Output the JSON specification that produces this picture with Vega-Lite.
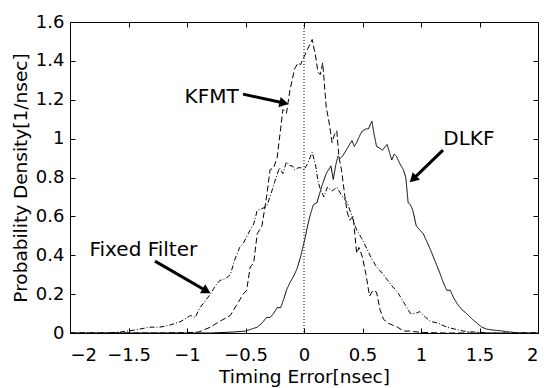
{
  "$schema": "https://vega.github.io/schema/vega-lite/v6.json",
  "width": 468,
  "height": 311,
  "autosize": {"type": "none"},
  "padding": {"left": 70, "top": 22, "right": 11, "bottom": 55},
  "background": "white",
  "config": {
    "view": {"stroke": "black", "strokeWidth": 1},
    "axis": {"grid": false, "domain": false, "labelFont": "DejaVu Sans", "titleFont": "DejaVu Sans", "labelColor": "black", "titleColor": "black", "tickColor": "black", "labelFontSize": 18, "titleFontSize": 18.5, "titleFontWeight": "normal", "tickSize": -5}
  },
  "datasets": {
    "curves": [
      {"series": "KFMT", "x": -2.0, "y": 0},
      {"series": "KFMT", "x": -1.2, "y": 0},
      {"series": "KFMT", "x": -1.0, "y": 0.002},
      {"series": "KFMT", "x": -0.9, "y": 0.005},
      {"series": "KFMT", "x": -0.8, "y": 0.03},
      {"series": "KFMT", "x": -0.72, "y": 0.06},
      {"series": "KFMT", "x": -0.63, "y": 0.09},
      {"series": "KFMT", "x": -0.58, "y": 0.14},
      {"series": "KFMT", "x": -0.52, "y": 0.2},
      {"series": "KFMT", "x": -0.49, "y": 0.22},
      {"series": "KFMT", "x": -0.46, "y": 0.34},
      {"series": "KFMT", "x": -0.43, "y": 0.36},
      {"series": "KFMT", "x": -0.4, "y": 0.51},
      {"series": "KFMT", "x": -0.36, "y": 0.55},
      {"series": "KFMT", "x": -0.32, "y": 0.7},
      {"series": "KFMT", "x": -0.29, "y": 0.84},
      {"series": "KFMT", "x": -0.26, "y": 0.85},
      {"series": "KFMT", "x": -0.23, "y": 0.9},
      {"series": "KFMT", "x": -0.2, "y": 1.05},
      {"series": "KFMT", "x": -0.18, "y": 1.15},
      {"series": "KFMT", "x": -0.15, "y": 1.13},
      {"series": "KFMT", "x": -0.12, "y": 1.25},
      {"series": "KFMT", "x": -0.08, "y": 1.36},
      {"series": "KFMT", "x": -0.05, "y": 1.39},
      {"series": "KFMT", "x": -0.03, "y": 1.38},
      {"series": "KFMT", "x": 0.0, "y": 1.42},
      {"series": "KFMT", "x": 0.03, "y": 1.46},
      {"series": "KFMT", "x": 0.07, "y": 1.51},
      {"series": "KFMT", "x": 0.1, "y": 1.42},
      {"series": "KFMT", "x": 0.12, "y": 1.34},
      {"series": "KFMT", "x": 0.14, "y": 1.33},
      {"series": "KFMT", "x": 0.16, "y": 1.39},
      {"series": "KFMT", "x": 0.19, "y": 1.16},
      {"series": "KFMT", "x": 0.21, "y": 1.1},
      {"series": "KFMT", "x": 0.24, "y": 0.98},
      {"series": "KFMT", "x": 0.26, "y": 1.02},
      {"series": "KFMT", "x": 0.28, "y": 1.04},
      {"series": "KFMT", "x": 0.3, "y": 0.9},
      {"series": "KFMT", "x": 0.32, "y": 0.84},
      {"series": "KFMT", "x": 0.35, "y": 0.7},
      {"series": "KFMT", "x": 0.37, "y": 0.62},
      {"series": "KFMT", "x": 0.39, "y": 0.58},
      {"series": "KFMT", "x": 0.42, "y": 0.6},
      {"series": "KFMT", "x": 0.45, "y": 0.41},
      {"series": "KFMT", "x": 0.47, "y": 0.44},
      {"series": "KFMT", "x": 0.5, "y": 0.39},
      {"series": "KFMT", "x": 0.53, "y": 0.3},
      {"series": "KFMT", "x": 0.56, "y": 0.19},
      {"series": "KFMT", "x": 0.59, "y": 0.22},
      {"series": "KFMT", "x": 0.62, "y": 0.21},
      {"series": "KFMT", "x": 0.65, "y": 0.12},
      {"series": "KFMT", "x": 0.68, "y": 0.07},
      {"series": "KFMT", "x": 0.72, "y": 0.05},
      {"series": "KFMT", "x": 0.76, "y": 0.04},
      {"series": "KFMT", "x": 0.8, "y": 0.03},
      {"series": "KFMT", "x": 0.85, "y": 0.01},
      {"series": "KFMT", "x": 0.9, "y": 0.01},
      {"series": "KFMT", "x": 1.0, "y": 0.003},
      {"series": "KFMT", "x": 1.2, "y": 0},
      {"series": "KFMT", "x": 2.0, "y": 0},
      {"series": "Fixed Filter", "x": -2.0, "y": 0},
      {"series": "Fixed Filter", "x": -1.7, "y": 0},
      {"series": "Fixed Filter", "x": -1.57, "y": 0.005},
      {"series": "Fixed Filter", "x": -1.45, "y": 0.015},
      {"series": "Fixed Filter", "x": -1.32, "y": 0.03},
      {"series": "Fixed Filter", "x": -1.23, "y": 0.03},
      {"series": "Fixed Filter", "x": -1.15, "y": 0.04},
      {"series": "Fixed Filter", "x": -1.05, "y": 0.06},
      {"series": "Fixed Filter", "x": -0.97, "y": 0.09},
      {"series": "Fixed Filter", "x": -0.93, "y": 0.08},
      {"series": "Fixed Filter", "x": -0.89, "y": 0.13},
      {"series": "Fixed Filter", "x": -0.85, "y": 0.16},
      {"series": "Fixed Filter", "x": -0.8, "y": 0.2},
      {"series": "Fixed Filter", "x": -0.76, "y": 0.24},
      {"series": "Fixed Filter", "x": -0.72, "y": 0.27},
      {"series": "Fixed Filter", "x": -0.67, "y": 0.28},
      {"series": "Fixed Filter", "x": -0.63, "y": 0.3},
      {"series": "Fixed Filter", "x": -0.59, "y": 0.38},
      {"series": "Fixed Filter", "x": -0.55, "y": 0.44},
      {"series": "Fixed Filter", "x": -0.52, "y": 0.46},
      {"series": "Fixed Filter", "x": -0.46, "y": 0.53},
      {"series": "Fixed Filter", "x": -0.43, "y": 0.56},
      {"series": "Fixed Filter", "x": -0.4, "y": 0.63},
      {"series": "Fixed Filter", "x": -0.36, "y": 0.64},
      {"series": "Fixed Filter", "x": -0.32, "y": 0.65},
      {"series": "Fixed Filter", "x": -0.28, "y": 0.72},
      {"series": "Fixed Filter", "x": -0.25, "y": 0.78},
      {"series": "Fixed Filter", "x": -0.21, "y": 0.85},
      {"series": "Fixed Filter", "x": -0.18, "y": 0.82},
      {"series": "Fixed Filter", "x": -0.15, "y": 0.88},
      {"series": "Fixed Filter", "x": -0.12, "y": 0.86},
      {"series": "Fixed Filter", "x": -0.1, "y": 0.86},
      {"series": "Fixed Filter", "x": -0.08, "y": 0.84},
      {"series": "Fixed Filter", "x": -0.05, "y": 0.85},
      {"series": "Fixed Filter", "x": -0.02, "y": 0.85},
      {"series": "Fixed Filter", "x": 0.0, "y": 0.84},
      {"series": "Fixed Filter", "x": 0.03, "y": 0.87},
      {"series": "Fixed Filter", "x": 0.07, "y": 0.93},
      {"series": "Fixed Filter", "x": 0.1, "y": 0.86},
      {"series": "Fixed Filter", "x": 0.12, "y": 0.78},
      {"series": "Fixed Filter", "x": 0.14, "y": 0.74},
      {"series": "Fixed Filter", "x": 0.17, "y": 0.7},
      {"series": "Fixed Filter", "x": 0.2, "y": 0.75},
      {"series": "Fixed Filter", "x": 0.24, "y": 0.73},
      {"series": "Fixed Filter", "x": 0.28, "y": 0.75},
      {"series": "Fixed Filter", "x": 0.32, "y": 0.71},
      {"series": "Fixed Filter", "x": 0.37, "y": 0.67},
      {"series": "Fixed Filter", "x": 0.41, "y": 0.6},
      {"series": "Fixed Filter", "x": 0.45, "y": 0.53},
      {"series": "Fixed Filter", "x": 0.49, "y": 0.49},
      {"series": "Fixed Filter", "x": 0.54, "y": 0.43},
      {"series": "Fixed Filter", "x": 0.58, "y": 0.38},
      {"series": "Fixed Filter", "x": 0.62, "y": 0.34},
      {"series": "Fixed Filter", "x": 0.68, "y": 0.3},
      {"series": "Fixed Filter", "x": 0.74, "y": 0.25},
      {"series": "Fixed Filter", "x": 0.8, "y": 0.21},
      {"series": "Fixed Filter", "x": 0.86, "y": 0.15},
      {"series": "Fixed Filter", "x": 0.91, "y": 0.1},
      {"series": "Fixed Filter", "x": 0.95, "y": 0.1},
      {"series": "Fixed Filter", "x": 0.99, "y": 0.11},
      {"series": "Fixed Filter", "x": 1.04, "y": 0.08},
      {"series": "Fixed Filter", "x": 1.08, "y": 0.06},
      {"series": "Fixed Filter", "x": 1.15, "y": 0.05},
      {"series": "Fixed Filter", "x": 1.22, "y": 0.03},
      {"series": "Fixed Filter", "x": 1.29, "y": 0.02},
      {"series": "Fixed Filter", "x": 1.36, "y": 0.01},
      {"series": "Fixed Filter", "x": 1.45, "y": 0.005},
      {"series": "Fixed Filter", "x": 1.6, "y": 0},
      {"series": "Fixed Filter", "x": 2.0, "y": 0},
      {"series": "DLKF", "x": -2.0, "y": 0},
      {"series": "DLKF", "x": -0.8, "y": 0},
      {"series": "DLKF", "x": -0.6, "y": 0.005},
      {"series": "DLKF", "x": -0.5, "y": 0.01},
      {"series": "DLKF", "x": -0.4, "y": 0.03},
      {"series": "DLKF", "x": -0.36, "y": 0.05},
      {"series": "DLKF", "x": -0.32, "y": 0.08},
      {"series": "DLKF", "x": -0.29, "y": 0.08},
      {"series": "DLKF", "x": -0.26, "y": 0.1},
      {"series": "DLKF", "x": -0.23, "y": 0.13},
      {"series": "DLKF", "x": -0.2, "y": 0.13},
      {"series": "DLKF", "x": -0.17, "y": 0.18},
      {"series": "DLKF", "x": -0.15, "y": 0.22},
      {"series": "DLKF", "x": -0.12, "y": 0.26},
      {"series": "DLKF", "x": -0.09, "y": 0.29},
      {"series": "DLKF", "x": -0.06, "y": 0.33},
      {"series": "DLKF", "x": -0.03, "y": 0.39},
      {"series": "DLKF", "x": 0.01, "y": 0.49},
      {"series": "DLKF", "x": 0.03, "y": 0.55},
      {"series": "DLKF", "x": 0.05, "y": 0.6},
      {"series": "DLKF", "x": 0.08, "y": 0.66},
      {"series": "DLKF", "x": 0.11, "y": 0.67},
      {"series": "DLKF", "x": 0.14, "y": 0.73},
      {"series": "DLKF", "x": 0.16, "y": 0.77},
      {"series": "DLKF", "x": 0.19, "y": 0.82},
      {"series": "DLKF", "x": 0.21, "y": 0.84},
      {"series": "DLKF", "x": 0.23, "y": 0.86},
      {"series": "DLKF", "x": 0.25, "y": 0.79},
      {"series": "DLKF", "x": 0.27, "y": 0.86},
      {"series": "DLKF", "x": 0.29, "y": 0.91},
      {"series": "DLKF", "x": 0.31, "y": 0.9},
      {"series": "DLKF", "x": 0.33, "y": 0.91},
      {"series": "DLKF", "x": 0.37, "y": 0.95},
      {"series": "DLKF", "x": 0.41, "y": 0.99},
      {"series": "DLKF", "x": 0.43, "y": 0.96},
      {"series": "DLKF", "x": 0.45, "y": 0.98},
      {"series": "DLKF", "x": 0.48, "y": 1.02},
      {"series": "DLKF", "x": 0.5, "y": 1.04},
      {"series": "DLKF", "x": 0.53, "y": 1.05},
      {"series": "DLKF", "x": 0.55, "y": 1.05},
      {"series": "DLKF", "x": 0.58, "y": 1.09},
      {"series": "DLKF", "x": 0.6, "y": 1.02},
      {"series": "DLKF", "x": 0.62, "y": 0.96},
      {"series": "DLKF", "x": 0.65, "y": 0.95},
      {"series": "DLKF", "x": 0.67, "y": 0.94},
      {"series": "DLKF", "x": 0.71, "y": 0.97},
      {"series": "DLKF", "x": 0.73, "y": 0.93},
      {"series": "DLKF", "x": 0.75, "y": 0.89},
      {"series": "DLKF", "x": 0.77, "y": 0.92},
      {"series": "DLKF", "x": 0.79, "y": 0.91},
      {"series": "DLKF", "x": 0.82, "y": 0.87},
      {"series": "DLKF", "x": 0.85, "y": 0.84},
      {"series": "DLKF", "x": 0.87, "y": 0.8},
      {"series": "DLKF", "x": 0.89, "y": 0.67},
      {"series": "DLKF", "x": 0.91, "y": 0.66},
      {"series": "DLKF", "x": 0.93, "y": 0.63},
      {"series": "DLKF", "x": 0.96, "y": 0.55},
      {"series": "DLKF", "x": 0.99, "y": 0.53},
      {"series": "DLKF", "x": 1.02, "y": 0.51},
      {"series": "DLKF", "x": 1.05, "y": 0.47},
      {"series": "DLKF", "x": 1.08, "y": 0.43},
      {"series": "DLKF", "x": 1.12, "y": 0.37},
      {"series": "DLKF", "x": 1.16, "y": 0.31},
      {"series": "DLKF", "x": 1.19, "y": 0.26},
      {"series": "DLKF", "x": 1.22, "y": 0.22},
      {"series": "DLKF", "x": 1.25, "y": 0.22},
      {"series": "DLKF", "x": 1.28, "y": 0.18},
      {"series": "DLKF", "x": 1.31, "y": 0.15},
      {"series": "DLKF", "x": 1.35, "y": 0.12},
      {"series": "DLKF", "x": 1.39, "y": 0.1},
      {"series": "DLKF", "x": 1.44, "y": 0.07},
      {"series": "DLKF", "x": 1.48, "y": 0.05},
      {"series": "DLKF", "x": 1.52, "y": 0.03},
      {"series": "DLKF", "x": 1.56, "y": 0.02},
      {"series": "DLKF", "x": 1.62, "y": 0.015},
      {"series": "DLKF", "x": 1.7, "y": 0.01},
      {"series": "DLKF", "x": 1.8, "y": 0.002},
      {"series": "DLKF", "x": 1.9, "y": 0},
      {"series": "DLKF", "x": 2.0, "y": 0}
    ],
    "labels": [
      {"label": "KFMT", "x": -0.79, "y": 1.212},
      {"label": "DLKF", "x": 1.409, "y": 0.997},
      {"label": "Fixed Filter", "x": -1.373, "y": 0.427}
    ],
    "arrows": [
      {"label": "KFMT", "x": -0.521, "y": 1.229, "x2": -0.171, "y2": 1.183},
      {"label": "DLKF", "x": 1.188, "y": 0.941, "x2": 0.932, "y2": 0.792},
      {"label": "Fixed Filter", "x": -1.274, "y": 0.37, "x2": -0.833, "y2": 0.216}
    ]
  },
  "resolve": {"axis": {"x": "independent", "y": "independent"}},
  "layer": [
    {
      "data": {"name": "curves"},
      "mark": {"type": "line", "color": "black", "strokeWidth": 1},
      "encoding": {
        "x": {"field": "x", "type": "quantitative", "scale": {"domain": [-2, 2], "nice": false}, "axis": {"orient": "bottom", "values": [-2, -1.5, -1, -0.5, 0, 0.5, 1, 1.5, 2], "title": "Timing Error[nsec]", "labelPadding": 18, "titlePadding": 3, "format": "~g"}},
        "y": {"field": "y", "type": "quantitative", "scale": {"domain": [0, 1.6], "nice": false}, "axis": {"orient": "left", "values": [0, 0.2, 0.4, 0.6, 0.8, 1, 1.2, 1.4, 1.6], "title": "Probability Density[1/nsec]", "labelPadding": 11, "titlePadding": 5, "format": "~g"}},
        "strokeDash": {"field": "series", "type": "nominal", "scale": {"domain": ["DLKF", "KFMT", "Fixed Filter"], "range": [[1, 0], [6, 3], [5, 2, 1, 2]]}, "legend": null}
      }
    },
    {
      "data": {"values": [{"x": 0}]},
      "mark": {"type": "rule", "color": "black", "strokeWidth": 1, "strokeDash": [1, 2]},
      "encoding": {
        "x": {"field": "x", "type": "quantitative", "axis": {"orient": "top", "values": [-2, -1.5, -1, -0.5, 0, 0.5, 1, 1.5, 2], "labels": false, "title": null}}
      }
    },
    {
      "data": {"name": "arrows"},
      "mark": {"type": "rule", "color": "black", "strokeWidth": 3},
      "encoding": {
        "x": {"field": "x", "type": "quantitative", "axis": null},
        "y": {"field": "y", "type": "quantitative", "axis": null},
        "x2": {"field": "x2"},
        "y2": {"field": "y2"}
      }
    },
    {
      "data": {"name": "arrows"},
      "transform": [{"filter": "datum.label === 'KFMT'"}],
      "mark": {"type": "point", "shape": "triangle-up", "filled": true, "color": "black", "opacity": 1, "size": 110, "angle": 102.5},
      "encoding": {
        "x": {"field": "x2", "type": "quantitative", "axis": null},
        "y": {"field": "y2", "type": "quantitative", "axis": null}
      }
    },
    {
      "data": {"name": "arrows"},
      "transform": [{"filter": "datum.label === 'DLKF'"}],
      "mark": {"type": "point", "shape": "triangle-up", "filled": true, "color": "black", "opacity": 1, "size": 110, "angle": 226},
      "encoding": {
        "x": {"field": "x2", "type": "quantitative", "axis": null},
        "y": {"field": "y2", "type": "quantitative", "axis": null}
      }
    },
    {
      "data": {"name": "arrows"},
      "transform": [{"filter": "datum.label === 'Fixed Filter'"}],
      "mark": {"type": "point", "shape": "triangle-up", "filled": true, "color": "black", "opacity": 1, "size": 110, "angle": 120},
      "encoding": {
        "x": {"field": "x2", "type": "quantitative", "axis": null},
        "y": {"field": "y2", "type": "quantitative", "axis": null}
      }
    },
    {
      "data": {"name": "labels"},
      "mark": {"type": "text", "font": "DejaVu Sans", "fontSize": 20, "color": "black", "align": "center", "baseline": "middle"},
      "encoding": {
        "x": {"field": "x", "type": "quantitative", "axis": null},
        "y": {"field": "y", "type": "quantitative", "axis": {"orient": "right", "values": [0, 0.2, 0.4, 0.6, 0.8, 1, 1.2, 1.4, 1.6], "labels": false, "title": null}},
        "text": {"field": "label"}
      }
    }
  ]
}
